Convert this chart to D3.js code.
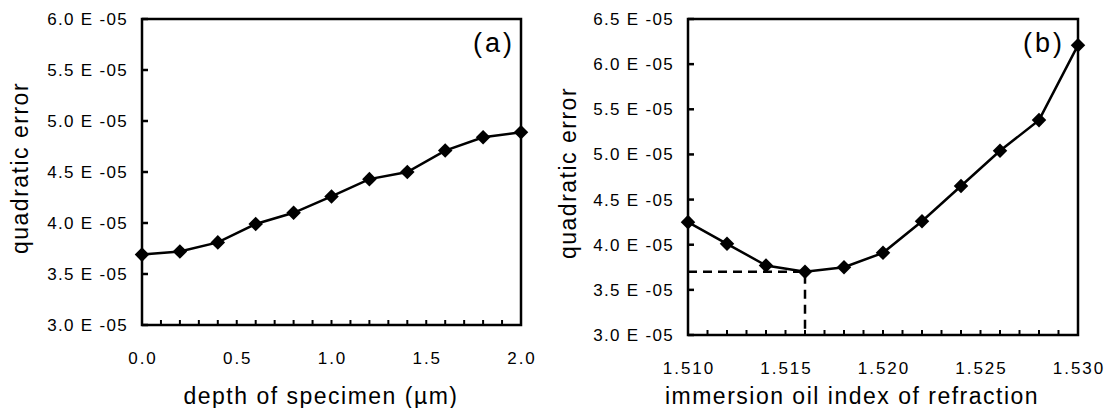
<!DOCTYPE html>
<html>
<head>
<meta charset="utf-8">
<script src="https://cdn.jsdelivr.net/npm/d3@7"></script>
<style>
  body { margin: 0; background: #fff; }
  text { font-family: "Liberation Sans", Arial, Helvetica, sans-serif; fill: #000; }
</style>
</head>
<body>
<svg id="chart" width="1107" height="408"></svg>
<script>
// panel (a): error vs depth of specimen
const depth = [0.0, 0.2, 0.4, 0.6, 0.8, 1.0, 1.2, 1.4, 1.6, 1.8, 2.0];
const depthError = [3.69e-5, 3.72e-5, 3.81e-5, 3.99e-5, 4.10e-5, 4.26e-5, 4.43e-5, 4.50e-5, 4.71e-5, 4.84e-5, 4.89e-5];
const depthTicks = [0.0, 0.5, 1.0, 1.5, 2.0];
const errTicksA = [3.0e-5, 3.5e-5, 4.0e-5, 4.5e-5, 5.0e-5, 5.5e-5, 6.0e-5];

// panel (b): error vs immersion oil index
const oilIndex = [1.510, 1.512, 1.514, 1.516, 1.518, 1.520, 1.522, 1.524, 1.526, 1.528, 1.530];
const oilError = [4.25e-5, 4.01e-5, 3.77e-5, 3.70e-5, 3.75e-5, 3.91e-5, 4.26e-5, 4.65e-5, 5.04e-5, 5.38e-5, 6.21e-5];
const oilTicks = [1.510, 1.515, 1.520, 1.525, 1.530];
const errTicksB = [3.0e-5, 3.5e-5, 4.0e-5, 4.5e-5, 5.0e-5, 5.5e-5, 6.0e-5, 6.5e-5];
const oilMin = { x: 1.516, y: 3.70e-5 };

const svg = d3.select("#chart");
const fmtErr = d => (d * 1e5).toFixed(1) + " E -05";

function drawPanel(p) {
  const x = d3.scaleLinear().domain(p.xDomain).range([p.left, p.right]);
  const y = d3.scaleLinear().domain(p.yDomain).range([p.bottom, p.top]);
  const g = svg.append("g");

  // minor x ticks (inside, pointing up)
  const minor = d3.range(0, 21).map(i => p.xDomain[0] + i * (p.xDomain[1] - p.xDomain[0]) / 20);
  g.selectAll(".minor")
    .data(minor)
    .join("line")
    .attr("x1", d => x(d)).attr("x2", d => x(d))
    .attr("y1", p.bottom).attr("y2", p.bottom - 5)
    .attr("stroke", "#000").attr("stroke-width", 2);

  // y ticks (inside, pointing right)
  g.selectAll(".ytick")
    .data(p.yTicks)
    .join("line")
    .attr("x1", p.left).attr("x2", p.left + 6)
    .attr("y1", d => y(d)).attr("y2", d => y(d))
    .attr("stroke", "#000").attr("stroke-width", 2.5);

  g.selectAll(".ylab")
    .data(p.yTicks)
    .join("text")
    .attr("x", p.left - 14)
    .attr("y", d => y(d))
    .attr("dy", "0.35em")
    .attr("text-anchor", "end")
    .attr("font-size", "17px")
    .style("letter-spacing", "1.3px")
    .text(fmtErr);

  g.selectAll(".xlab")
    .data(p.xTicks)
    .join("text")
    .attr("x", d => x(d) + 1)
    .attr("y", p.bottom + 39)
    .attr("text-anchor", "middle")
    .attr("font-size", "17px")
    .style("letter-spacing", "2px")
    .text(d => d3.format(p.xFmt)(d));

  // frame
  g.append("rect")
    .attr("x", p.left).attr("y", p.top)
    .attr("width", p.right - p.left).attr("height", p.bottom - p.top)
    .attr("fill", "none").attr("stroke", "#000").attr("stroke-width", 2.5);

  if (p.guide) {
    g.append("path")
      .attr("d", `M${x(p.xDomain[0])},${y(p.guide.y)}H${x(p.guide.x)}V${y(p.yDomain[0])}`)
      .attr("fill", "none").attr("stroke", "#000").attr("stroke-width", 2.5)
      .attr("stroke-dasharray", "9,6");
  }

  const line = d3.line().x(d => x(d[0])).y(d => y(d[1]));
  const pts = p.xs.map((v, i) => [v, p.ys[i]]);
  g.append("path")
    .datum(pts)
    .attr("d", line)
    .attr("fill", "none").attr("stroke", "#000").attr("stroke-width", 2.5);

  const diamond = d3.symbol().type(d3.symbolDiamond2).size(135);
  g.selectAll(".pt")
    .data(pts)
    .join("path")
    .attr("transform", d => `translate(${x(d[0])},${y(d[1])})`)
    .attr("d", diamond)
    .attr("fill", "#000");

  g.append("text")
    .attr("x", p.xTitleX)
    .attr("y", 404)
    .attr("text-anchor", "middle")
    .attr("font-size", "23px")
    .style("letter-spacing", "1.5px")
    .text(p.xTitle);

  g.append("text")
    .attr("transform", `translate(${p.yTitleX},${(p.top + p.bottom) / 2 - 4}) rotate(-90)`)
    .attr("text-anchor", "middle")
    .attr("font-size", "23px")
    .style("letter-spacing", "1.5px")
    .text("quadratic error");

  g.append("text")
    .attr("x", p.right - p.tagInset)
    .attr("y", p.top + 33)
    .attr("text-anchor", "end")
    .attr("font-size", "27px")
    .style("letter-spacing", "3px")
    .text(p.tag);
}

drawPanel({
  xs: depth, ys: depthError, xDomain: [0, 2], yDomain: [3.0e-5, 6.0e-5],
  xTicks: depthTicks, yTicks: errTicksA, xFmt: ".1f",
  left: 142, right: 521, top: 19, bottom: 325,
  xTitle: "depth of specimen (µm)", xTitleX: 321, yTitleX: 28, tag: "(a)", tagInset: 6
});

drawPanel({
  xs: oilIndex, ys: oilError, xDomain: [1.510, 1.530], yDomain: [3.0e-5, 6.5e-5],
  xTicks: oilTicks, yTicks: errTicksB, xFmt: ".3f",
  left: 688, right: 1078, top: 19, bottom: 335,
  xTitle: "immersion oil index of refraction", xTitleX: 852, yTitleX: 576, tag: "(b)", tagInset: 13,
  guide: oilMin
});
</script>
</body>
</html>
